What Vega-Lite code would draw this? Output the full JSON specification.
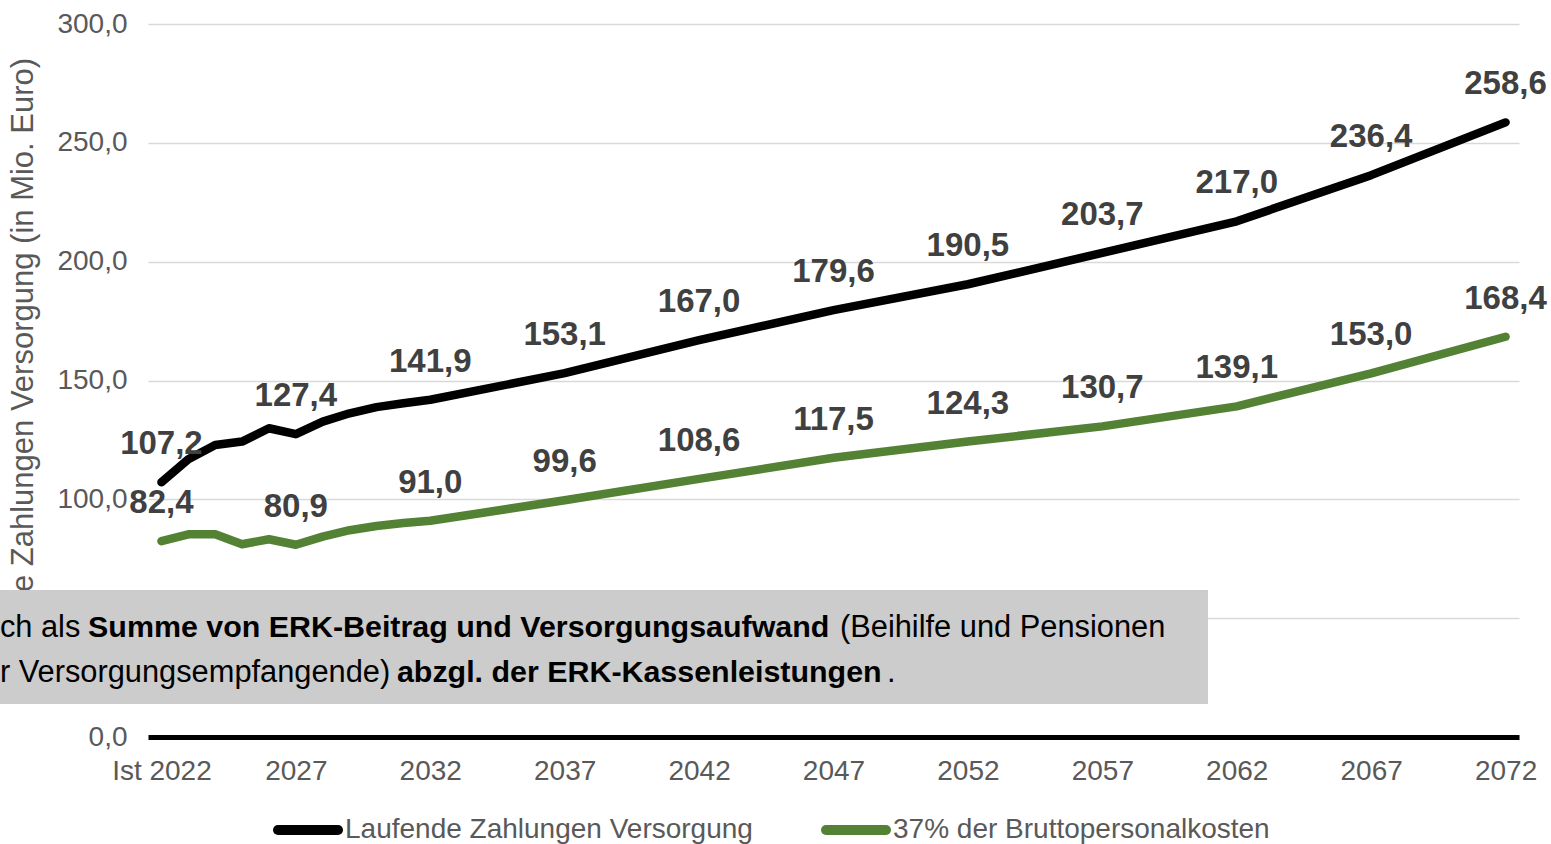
{
  "$schema": "https://vega.github.io/schema/vega-lite/v6.json",
  "width": 1371,
  "height": 713,
  "autosize": {"type": "none"},
  "padding": {"left": 148, "top": 24, "right": 32, "bottom": 107},
  "background": "white",
  "config": {
    "locale": {"number": {"decimal": ",", "thousands": ".", "grouping": [3], "currency": ["", " €"]}},
    "view": {"stroke": null},
    "font": "Liberation Sans"
  },
  "datasets": {
    "series": [
      {"year": 2022, "series": "Laufende Zahlungen Versorgung", "value": 107.2},
      {"year": 2023, "series": "Laufende Zahlungen Versorgung", "value": 116.9},
      {"year": 2024, "series": "Laufende Zahlungen Versorgung", "value": 122.9},
      {"year": 2025, "series": "Laufende Zahlungen Versorgung", "value": 124.3},
      {"year": 2026, "series": "Laufende Zahlungen Versorgung", "value": 129.9},
      {"year": 2027, "series": "Laufende Zahlungen Versorgung", "value": 127.4},
      {"year": 2028, "series": "Laufende Zahlungen Versorgung", "value": 132.7},
      {"year": 2029, "series": "Laufende Zahlungen Versorgung", "value": 136.2},
      {"year": 2030, "series": "Laufende Zahlungen Versorgung", "value": 138.8},
      {"year": 2031, "series": "Laufende Zahlungen Versorgung", "value": 140.4},
      {"year": 2032, "series": "Laufende Zahlungen Versorgung", "value": 141.9},
      {"year": 2037, "series": "Laufende Zahlungen Versorgung", "value": 153.1},
      {"year": 2042, "series": "Laufende Zahlungen Versorgung", "value": 167.0},
      {"year": 2047, "series": "Laufende Zahlungen Versorgung", "value": 179.6},
      {"year": 2052, "series": "Laufende Zahlungen Versorgung", "value": 190.5},
      {"year": 2057, "series": "Laufende Zahlungen Versorgung", "value": 203.7},
      {"year": 2062, "series": "Laufende Zahlungen Versorgung", "value": 217.0},
      {"year": 2067, "series": "Laufende Zahlungen Versorgung", "value": 236.4},
      {"year": 2072, "series": "Laufende Zahlungen Versorgung", "value": 258.6},
      {"year": 2022, "series": "37% der Bruttopersonalkosten", "value": 82.4},
      {"year": 2023, "series": "37% der Bruttopersonalkosten", "value": 85.3},
      {"year": 2024, "series": "37% der Bruttopersonalkosten", "value": 85.3},
      {"year": 2025, "series": "37% der Bruttopersonalkosten", "value": 81.1},
      {"year": 2026, "series": "37% der Bruttopersonalkosten", "value": 83.2},
      {"year": 2027, "series": "37% der Bruttopersonalkosten", "value": 80.9},
      {"year": 2028, "series": "37% der Bruttopersonalkosten", "value": 84.3},
      {"year": 2029, "series": "37% der Bruttopersonalkosten", "value": 87.0},
      {"year": 2030, "series": "37% der Bruttopersonalkosten", "value": 88.8},
      {"year": 2031, "series": "37% der Bruttopersonalkosten", "value": 90.0},
      {"year": 2032, "series": "37% der Bruttopersonalkosten", "value": 91.0},
      {"year": 2037, "series": "37% der Bruttopersonalkosten", "value": 99.6},
      {"year": 2042, "series": "37% der Bruttopersonalkosten", "value": 108.6},
      {"year": 2047, "series": "37% der Bruttopersonalkosten", "value": 117.5},
      {"year": 2052, "series": "37% der Bruttopersonalkosten", "value": 124.3},
      {"year": 2057, "series": "37% der Bruttopersonalkosten", "value": 130.7},
      {"year": 2062, "series": "37% der Bruttopersonalkosten", "value": 139.1},
      {"year": 2067, "series": "37% der Bruttopersonalkosten", "value": 153.0},
      {"year": 2072, "series": "37% der Bruttopersonalkosten", "value": 168.4}
    ],
    "box": [{"year": 2015.5, "year2": 2060.93, "value": 13.9, "value2": 61.9}],
    "regular": [
      {"year": 2015.99, "value": 42.1, "text": "ch als"},
      {"year": 2047.24, "value": 42.1, "text": "(Beihilfe und Pensionen"},
      {"year": 2015.99, "value": 23.2, "text": "r Versorgungsempfangende)"},
      {"year": 2048.99, "value": 23.2, "text": "."}
    ],
    "bold": [
      {"year": 2019.27, "value": 42.1, "text": "Summe von ERK-Beitrag und Versorgungsaufwand"},
      {"year": 2030.76, "value": 23.2, "text": "abzgl. der ERK-Kassenleistungen"}
    ]
  },
  "encoding": {
    "x": {
      "field": "year", "type": "quantitative",
      "scale": {"domain": [2021.5, 2072.5], "nice": false, "zero": false},
      "axis": {
        "title": null,
        "values": [2022, 2027, 2032, 2037, 2042, 2047, 2052, 2057, 2062, 2067, 2072],
        "labelExpr": "datum.value == 2022 ? 'Ist 2022' : '' + datum.value",
        "domainColor": "#000000", "domainWidth": 5,
        "ticks": false, "grid": false,
        "labelFontSize": 28, "labelColor": "#595959", "labelPadding": 20,
        "labelFlush": false, "labelOverlap": false, "zindex": 1
      }
    },
    "y": {
      "field": "value", "type": "quantitative",
      "scale": {"domain": [0, 300], "nice": false},
      "axis": {
        "title": "Laufende Zahlungen Versorgung (in Mio. Euro)",
        "titleFontSize": 31, "titleFontWeight": "normal", "titleColor": "#595959", "titlePadding": 17,
        "values": [0, 50, 100, 150, 200, 250, 300], "format": ".1f",
        "labelFontSize": 28, "labelColor": "#595959", "labelPadding": 21,
        "ticks": false, "domain": false,
        "grid": true, "gridColor": "#d9d9d9", "gridWidth": 1.5, "zindex": 0
      }
    }
  },
  "layer": [
    {
      "data": {"name": "series"},
      "mark": {"type": "line", "strokeWidth": 8.5, "strokeCap": "round", "strokeJoin": "round"},
      "encoding": {
        "color": {
          "field": "series", "type": "nominal",
          "scale": {"domain": ["Laufende Zahlungen Versorgung", "37% der Bruttopersonalkosten"], "range": ["#000000", "#548235"]},
          "legend": {
            "title": null, "orient": "none", "legendX": 125, "legendY": 771,
            "direction": "horizontal", "symbolType": "stroke", "symbolSize": 3600, "symbolStrokeWidth": 10,
            "labelFontSize": 28, "labelColor": "#595959", "labelOffset": 2, "columnPadding": 53,
            "labelLimit": 800, "padding": 0,
            "encode": {"symbols": {"update": {"strokeCap": {"value": "round"}}}}
          }
        }
      }
    },
    {
      "data": {"name": "series"},
      "transform": [{"filter": "datum.year % 5 == 2"}],
      "mark": {"type": "text", "fontSize": 33, "fontWeight": "bold", "color": "#404040", "dy": -28, "baseline": "alphabetic", "align": "center"},
      "encoding": {
        "text": {"field": "value", "type": "quantitative", "format": ".1f"}
      }
    },
    {
      "data": {"name": "box"},
      "mark": {"type": "rect", "color": "#cccccc", "opacity": 1},
      "encoding": {
        "x2": {"field": "year2"},
        "y2": {"field": "value2"}
      }
    },
    {
      "data": {"name": "regular"},
      "mark": {"type": "text", "fontSize": 30.8, "color": "#000000", "align": "left", "baseline": "alphabetic"},
      "encoding": {
        "text": {"field": "text"}
      }
    },
    {
      "data": {"name": "bold"},
      "mark": {"type": "text", "fontSize": 30.4, "fontWeight": "bold", "color": "#000000", "align": "left", "baseline": "alphabetic"},
      "encoding": {
        "text": {"field": "text"}
      }
    }
  ]
}
